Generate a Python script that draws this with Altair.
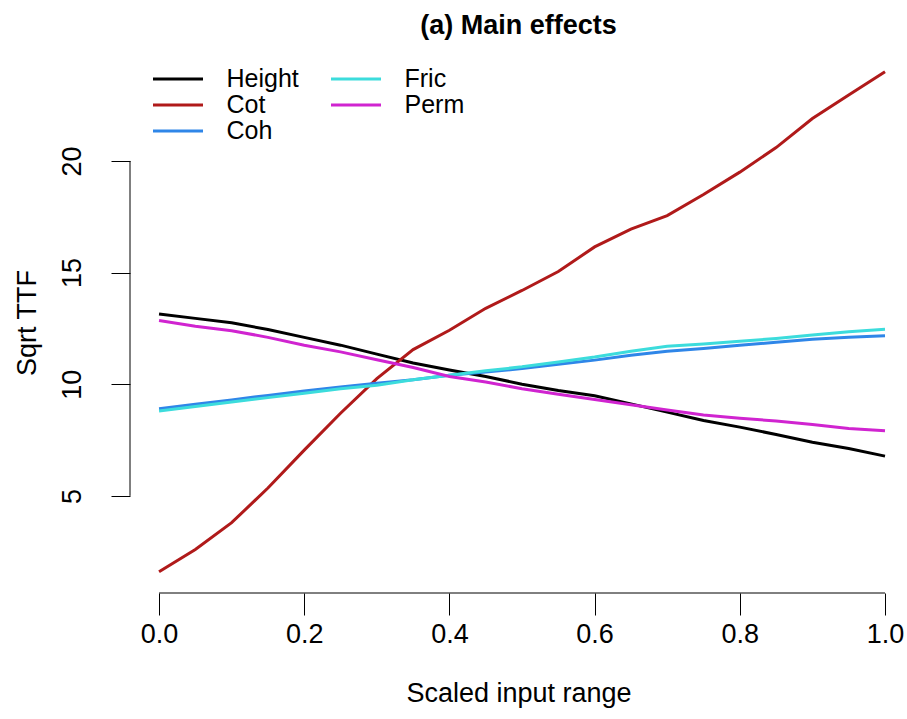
import altair as alt
import pandas as pd

# Scaled input values at which each main effect was evaluated
x_vals = [0.00, 0.05, 0.10, 0.15, 0.20, 0.25, 0.30, 0.35, 0.40, 0.45, 0.50,
          0.55, 0.60, 0.65, 0.70, 0.75, 0.80, 0.85, 0.90, 0.95, 1.00]

# Square-root time to failure for each input
height = [13.15, 12.95, 12.75, 12.45, 12.10, 11.75, 11.35, 10.95, 10.64, 10.35, 10.00,
          9.72, 9.48, 9.12, 8.75, 8.38, 8.08, 7.75, 7.40, 7.12, 6.78]
cot = [1.60, 2.60, 3.80, 5.35, 7.05, 8.70, 10.25, 11.55, 12.42, 13.40, 14.20,
       15.05, 16.15, 16.95, 17.55, 18.50, 19.50, 20.60, 21.90, 22.95, 24.00]
coh = [8.90, 9.10, 9.30, 9.50, 9.70, 9.88, 10.05, 10.20, 10.40, 10.55, 10.70,
       10.90, 11.08, 11.30, 11.48, 11.60, 11.75, 11.88, 12.02, 12.10, 12.17]
fric = [8.80, 9.00, 9.20, 9.40, 9.60, 9.80, 9.95, 10.20, 10.40, 10.60, 10.78,
        11.00, 11.22, 11.48, 11.70, 11.80, 11.92, 12.05, 12.20, 12.35, 12.46]
perm = [12.85, 12.60, 12.40, 12.10, 11.75, 11.45, 11.10, 10.75, 10.35, 10.10, 9.80,
        9.55, 9.32, 9.08, 8.85, 8.62, 8.48, 8.35, 8.20, 8.02, 7.92]

series_names = ["Height", "Cot", "Coh", "Fric", "Perm"]
series_values = [height, cot, coh, fric, perm]
series_colors = {"Height": "#000000", "Cot": "#B01A1A", "Coh": "#2F86E8",
                 "Fric": "#3CDCDC", "Perm": "#D024D0"}

x_ticks = [0.0, 0.2, 0.4, 0.6, 0.8, 1.0]
y_ticks = [5, 10, 15, 20]
x_domain = [-0.04, 1.0303]
y_domain = [0.65, 24.88]

rows = []
for name, vals in zip(series_names, series_values):
    for order, (xv, yv) in enumerate(zip(x_vals, vals)):
        rows.append({"input": xv, "ttf": yv, "effect": name, "order": order})
df = pd.DataFrame(rows)

FONT = "Liberation Sans"
W, H = 777, 541

x_scale = alt.Scale(domain=x_domain, nice=False, zero=False)
y_scale = alt.Scale(domain=y_domain, nice=False, zero=False)

lines = alt.Chart(df).mark_line(strokeWidth=3).encode(
    x=alt.X("input:Q", scale=x_scale,
            axis=alt.Axis(values=x_ticks, format=".1f", title="Scaled input range",
                          domain=False, grid=False, tickSize=22, tickColor="black",
                          tickWidth=1, labelFontSize=27, labelFont=FONT,
                          labelColor="black", labelBaseline="alphabetic",
                          labelPadding=27, labelFlush=False,
                          titleFont=FONT, titleFontSize=27, titleFontWeight="normal",
                          titleColor="black", titleBaseline="alphabetic",
                          titleY=108)),
    y=alt.Y("ttf:Q", scale=y_scale,
            axis=alt.Axis(values=y_ticks, title="Sqrt TTF", domain=False, grid=False,
                          tickSize=19, tickColor="black", tickWidth=1,
                          labelFontSize=27, labelFont=FONT, labelColor="black",
                          labelAngle=270, labelAlign="center",
                          labelBaseline="alphabetic", labelPadding=31,
                          labelFlush=False,
                          titleFont=FONT, titleFontSize=27, titleFontWeight="normal",
                          titleColor="black", titleAngle=270, titleAlign="center",
                          titleBaseline="alphabetic", titleX=-95, titleY=H / 2)),
    # legend entries run down the columns: Height/Cot/Coh, then Fric/Perm
    color=alt.Color("effect:N",
                    scale=alt.Scale(domain=series_names,
                                    range=[series_colors[n] for n in series_names]),
                    legend=alt.Legend(orient="none", legendX=21.5, legendY=14,
                                      columns=2, title=None, symbolType="stroke",
                                      symbolSize=2500, symbolStrokeWidth=3,
                                      clipHeight=26, rowPadding=0, columnPadding=30,
                                      labelFontSize=25, labelFont=FONT,
                                      labelColor="black", labelOffset=22,
                                      labelLimit=0, padding=0)),
    order="order:Q",
)

# R-style axis lines that span only the tick range
x_axis_line = alt.Chart(pd.DataFrame({"x": [x_ticks[0]], "x2": [x_ticks[-1]],
                                      "y": [y_domain[0]]})).mark_rule(
    color="black", strokeWidth=1).encode(
    x=alt.X("x:Q", scale=x_scale), x2="x2:Q", y=alt.Y("y:Q", scale=y_scale))

y_axis_line = alt.Chart(pd.DataFrame({"y": [y_ticks[0]], "y2": [y_ticks[-1]],
                                      "x": [x_domain[0]]})).mark_rule(
    color="black", strokeWidth=1).encode(
    y=alt.Y("y:Q", scale=y_scale), y2="y2:Q", x=alt.X("x:Q", scale=x_scale))

chart = alt.layer(x_axis_line, y_axis_line, lines).properties(
    width=W, height=H,
    title=alt.TitleParams("(a) Main effects", font=FONT, fontSize=27,
                          fontWeight="bold", color="black", anchor="middle",
                          baseline="alphabetic", offset=19, dy=28),
    autosize=alt.AutoSizeParams(type="none"),
    padding={"left": 130, "top": 52, "right": 0, "bottom": 126},
    background="white",
).configure_view(strokeWidth=0)

chart.save("out.html", embed_options={"renderer": "svg", "actions": False})
